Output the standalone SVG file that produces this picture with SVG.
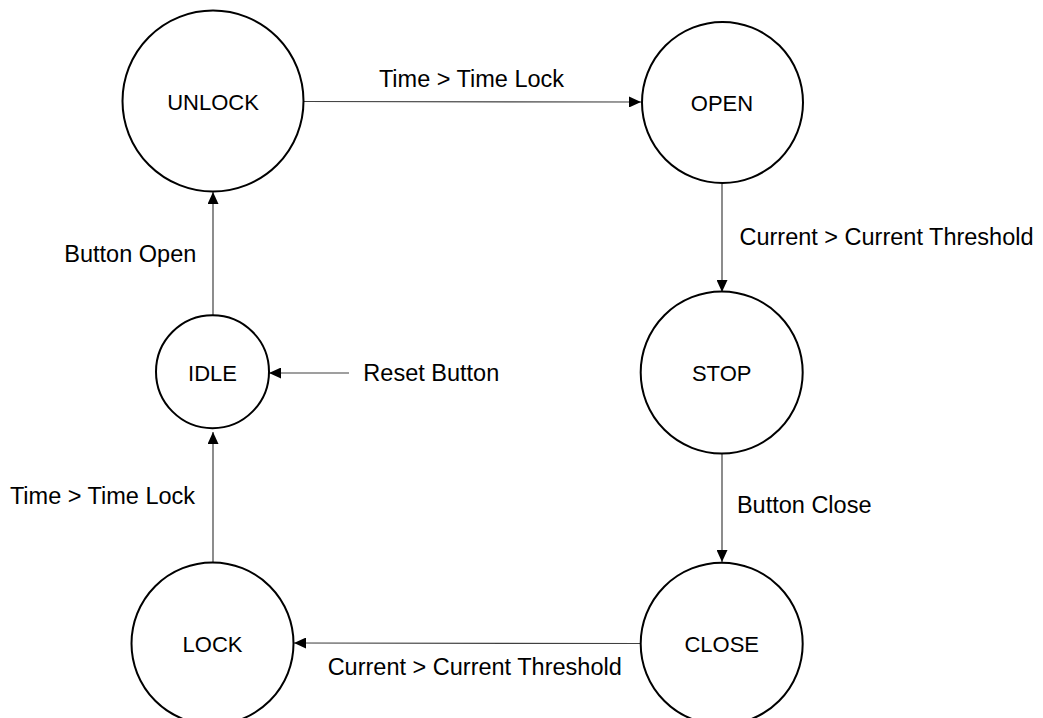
<svg xmlns="http://www.w3.org/2000/svg" width="1043" height="718" viewBox="0 0 1043 718">
<style>
.node circle{fill:#fff;stroke:#000;stroke-width:2}
.node text{font-family:"Liberation Sans",Arial,sans-serif;font-size:22px;fill:#000;text-anchor:middle}
.edge{stroke:#404040;stroke-width:1.2;fill:none;marker-end:url(#arr)}
.lbl{font-family:"Liberation Sans",Arial,sans-serif;font-size:23.5px;fill:#000;text-anchor:middle}
</style>
<defs>
<marker id="arr" markerUnits="userSpaceOnUse" markerWidth="13" markerHeight="11" refX="12" refY="5.5" orient="auto">
<path d="M0,0 L12,5.5 L0,11 z" fill="#000"/>
</marker>
</defs>
<rect width="1043" height="718" fill="#fff"/>
<g id="connectors">
<line class="edge" x1="304" y1="101.5" x2="641" y2="102"/>
<line class="edge" x1="722" y1="183.5" x2="722" y2="292"/>
<line class="edge" x1="722" y1="453.5" x2="722" y2="562"/>
<line class="edge" x1="641" y1="643.5" x2="294" y2="643"/>
<line class="edge" x1="213" y1="562" x2="213" y2="432"/>
<line class="edge" x1="213" y1="315" x2="213" y2="192"/>
<line class="edge" x1="349" y1="373" x2="269" y2="373"/>
<text class="lbl" x="471.5" y="87">Time &gt; Time Lock</text>
<text class="lbl" x="886.5" y="245">Current &gt; Current Threshold</text>
<text class="lbl" x="804.2" y="513">Button Close</text>
<text class="lbl" x="474.7" y="675">Current &gt; Current Threshold</text>
<text class="lbl" x="102.5" y="504">Time &gt; Time Lock</text>
<text class="lbl" x="130.3" y="262">Button Open</text>
<text class="lbl" x="431.3" y="381">Reset Button</text>
</g>
<g id="unlock" class="node"><circle cx="213" cy="101" r="90.5"/><text x="213" y="110">UNLOCK</text></g>
<g id="open" class="node"><circle cx="722.5" cy="102.5" r="80.5"/><text x="722" y="111">OPEN</text></g>
<g id="stop" class="node"><circle cx="721.7" cy="372.5" r="81"/><text x="721.7" y="381">STOP</text></g>
<g id="close" class="node"><circle cx="721.7" cy="643.7" r="81"/><text x="721.7" y="652">CLOSE</text></g>
<g id="lock" class="node"><circle cx="212.5" cy="643.5" r="81"/><text x="212.5" y="652">LOCK</text></g>
<g id="idle" class="node"><circle cx="212.5" cy="371.7" r="56.5"/><text x="212.5" y="381">IDLE</text></g>
</svg>
